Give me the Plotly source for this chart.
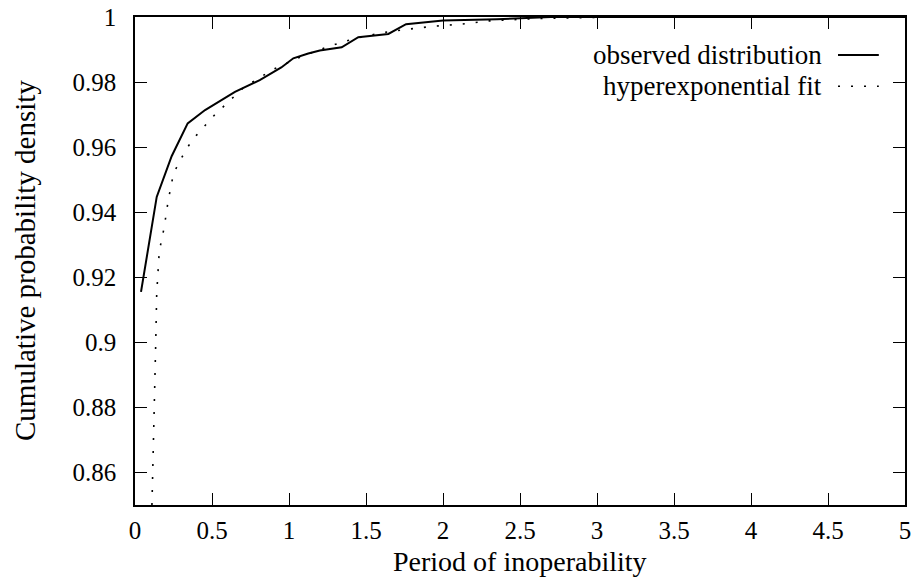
import plotly.graph_objects as go

# Observed distribution
obs_x = [0.039, 0.141, 0.238, 0.342, 0.455, 0.649, 0.81, 0.95, 1.028, 1.125, 1.2,
         1.342, 1.45, 1.645, 1.76, 2.0, 2.35, 2.7, 5.0]
obs_y = [0.9155, 0.9447, 0.9572, 0.9673, 0.9714, 0.977, 0.9806, 0.9845, 0.9873, 0.9888,
         0.9897, 0.9907, 0.9938, 0.9948, 0.9978, 0.9989, 0.9993, 1.0, 1.0]

# Hyperexponential fit
fit_x = [0.110, 0.119, 0.125, 0.134, 0.141, 0.150, 0.158, 0.173, 0.190, 0.216, 0.249,
         0.288, 0.346, 0.400, 0.450, 0.509, 0.606, 0.714, 0.800, 0.887, 0.959, 1.05,
         1.2, 1.353, 1.5, 1.65, 1.78, 1.95, 2.12, 2.3, 2.6, 3.0, 4.0, 5.0]
fit_y = [0.850, 0.8658, 0.8822, 0.8986, 0.915, 0.922, 0.9283, 0.9314, 0.9355, 0.9437,
         0.9517, 0.9555, 0.9603, 0.9637, 0.9665, 0.9695, 0.9739, 0.9787, 0.981, 0.9837,
         0.9852, 0.9872, 0.990, 0.9924, 0.9942, 0.9955, 0.9963, 0.9972, 0.9978, 0.9988,
         0.9995, 0.9999, 1.0, 1.0]

x_ticks = [0, 0.5, 1, 1.5, 2, 2.5, 3, 3.5, 4, 4.5, 5]
x_labels = ["0", "0.5", "1", "1.5", "2", "2.5", "3", "3.5", "4", "4.5", "5"]
y_ticks = [0.86, 0.88, 0.9, 0.92, 0.94, 0.96, 0.98, 1.0]
y_labels = ["0.86", "0.88", "0.9", "0.92", "0.94", "0.96", "0.98", "1"]

series_names = ["observed distribution", "hyperexponential fit"]
x_title = "Period of inoperability"
y_title = "Cumulative probability density"

FONT = "Liberation Serif, Times New Roman, serif"
FS_TICK = 25
FS_TEXT = 28
FS_LEG = 27

fig = go.Figure()
fig.add_trace(go.Scatter(x=obs_x, y=obs_y, mode="lines", name=series_names[0],
                         line=dict(color="black", width=2)))
fig.add_trace(go.Scatter(x=fit_x, y=fit_y, mode="lines", name=series_names[1],
                         line=dict(color="black", width=1.6, dash="2px,11px")))

axis_common = dict(showline=True, linecolor="black", linewidth=1.6, mirror="allticks",
                   ticks="inside", ticklen=12, tickwidth=1.4, tickcolor="black",
                   showgrid=False, zeroline=False, automargin=False,
                   tickfont=dict(family=FONT, size=FS_TICK, color="black"))

fig.update_xaxes(range=[0, 5], tickvals=x_ticks, ticktext=x_labels,
                 ticklabelstandoff=2, **axis_common)
fig.update_yaxes(range=[0.85, 1.0], tickvals=y_ticks, ticktext=y_labels,
                 ticklabelstandoff=12, **axis_common)

# Axis titles
fig.add_annotation(text=x_title, xref="paper", yref="paper", x=0.5, y=0,
                   xanchor="center", yanchor="middle", yshift=-56, showarrow=False,
                   borderpad=0,
                   font=dict(family=FONT, size=FS_TEXT, color="black"))
fig.add_annotation(text=y_title, xref="paper", yref="paper", x=0, y=0.5,
                   xanchor="center", yanchor="middle", xshift=-110, textangle=-90,
                   showarrow=False, font=dict(family=FONT, size=29, color="black"))

# Legend (gnuplot style: text right-aligned, key sample on the right)
leg_rows = [0.922, 0.858]
leg_dash = ["solid", "2px,11px"]
leg_width = [2, 1.6]
for name, yy, dsh, w in zip(series_names, leg_rows, leg_dash, leg_width):
    fig.add_annotation(text=name, xref="paper", yref="paper", x=0.893, y=yy,
                       xanchor="right", yanchor="middle", showarrow=False,
                       borderpad=0,
                       font=dict(family=FONT, size=FS_LEG, color="black"))
    fig.add_shape(type="line", xref="paper", yref="paper", x0=0.913, x1=0.966,
                  y0=yy, y1=yy, line=dict(color="black", width=w, dash=dsh))

fig.update_layout(width=919, height=581, showlegend=False,
                  paper_bgcolor="white", plot_bgcolor="white",
                  margin=dict(l=135, r=14, t=17, b=76, autoexpand=False),
                  font=dict(family=FONT, size=FS_TEXT, color="black"))

fig.write_html("out.html", config={"displayModeBar": False},
               post_script="document.body.style.margin='0';document.body.style.overflow='hidden';")
